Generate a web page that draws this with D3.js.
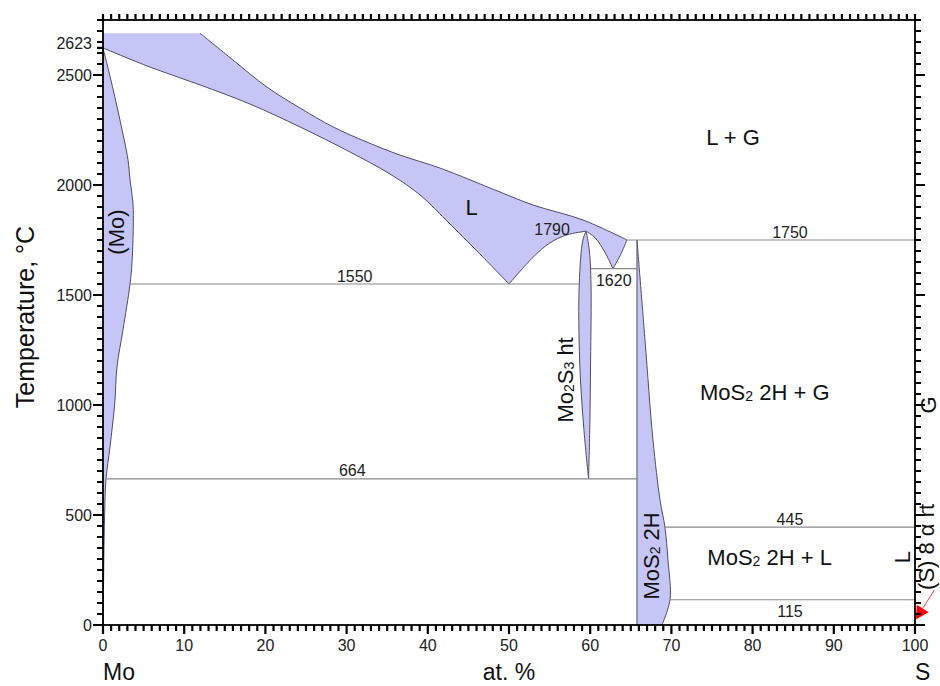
<!DOCTYPE html>
<html><head><meta charset="utf-8">
<script src="https://cdn.jsdelivr.net/npm/d3@7"></script>
<style>
body{margin:0;background:#fff}
text{font-family:"Liberation Sans",Arial,Helvetica,sans-serif}
</style>
</head><body>
<svg id="c" width="940" height="686" xmlns="http://www.w3.org/2000/svg"></svg>
<script>
// ---------- data ----------
const xTickValues = [0,10,20,30,40,50,60,70,80,90,100];
const yTickValues = [0,500,1000,1500,2000,2500,2623];
const xMinor = d3.range(0,101,1);
const yMinor = d3.range(0,2751,50);

// (Mo) solid solution: right boundary (solidus + solvus)
const moBoundary = [[0,2623],[0.86,2495],[2.09,2295],[3.08,2114],[3.33,2023],[3.69,1918],[3.72,1800],[3.57,1645],[3.33,1550],[2.46,1341],[1.72,1173],[1.45,1009],[0.86,809],[0.37,664],[0.2,500],[0.1,300],[0.03,0]];

// Liquid single-phase field
const liqTop = 2690;
const liqUpper = [[11.95,2690],[16.01,2568],[20.2,2445],[24.26,2350],[28.33,2264],[32.51,2195],[36.58,2136],[41.5,2077],[48.9,1968],[52.96,1909],[59.11,1841],[64.53,1750]];
const liqRightBranch = [[64.53,1750],[63.7,1680],[62.8,1620]];
const liqLeftBranch = [[62.8,1620],[61.8,1695],[60.6,1760],[59.5,1790]];
const liqDome = [[59.5,1790],[57.1,1773],[55.0,1736],[53.0,1673],[50.0,1550]];
const liqMoSide = [[50.0,1550],[46.43,1686],[42.73,1823],[39.04,1955],[35.34,2050],[30.42,2150],[24.26,2264],[18.1,2368],[11.95,2455],[5.79,2536],[0,2623]];

// Mo2S3 ht lens
const mo2s3Left = [[59.5,1790],[59.1,1750],[58.65,1550],[58.7,1200],[59.2,900],[59.8,664]];
const mo2s3Right = [[59.5,1790],[59.9,1700],[60.1,1550],[60.05,1200],[59.95,900],[59.8,664]];

// MoS2 2H
const mos2Left = [[65.76,1750],[65.76,0]];
const mos2Right = [[65.76,1750],[66.75,1295],[67.73,841],[68.6,568],[69.2,445],[69.58,295],[69.83,115],[68.84,0]];

// invariant lines
const invariants = [
  {T:1550, from:3.33, to:58.65},
  {T:664,  from:0.37, to:65.76},
  {T:1750, from:64.53, to:100},
  {T:1620, from:60.1, to:65.76},
  {T:445,  from:69.2, to:100},
  {T:115,  from:69.83, to:100}
];
const invariantLabels = [
  {t:"1550", x:31.0, T:1550, side:"above"},
  {t:"664",  x:30.7, T:664,  side:"above"},
  {t:"1750", x:84.6, T:1750, side:"above"},
  {t:"445",  x:84.6, T:445,  side:"above"},
  {t:"115",  x:84.6, T:115,  side:"below"},
  {t:"1620", x:62.9, T:1620, side:"below"},
  {t:"1790", x:55.3, T:1790, side:"at"}
];

// region labels (parts: [text, isSubscript])
const regionLabels = [
  {parts:[["L + G",0]], x:77.6, T:2218, rot:false},
  {parts:[["L",0]], x:45.4, T:1900, rot:false},
  {parts:[["MoS",0],["2",1],[" 2H + G",0]], x:81.5, T:1059, rot:false},
  {parts:[["MoS",0],["2",1],[" 2H + L",0]], x:82.1, T:309, rot:false},
  {parts:[["(Mo)",0]], x:1.6, T:1786, rot:true},
  {parts:[["Mo",0],["2",1],["S",0],["3",1],[" ht",0]], x:56.9, T:1114, rot:true},
  {parts:[["MoS",0],["2",1],[" 2H",0]], x:67.5, T:314, rot:true},
  {parts:[["G",0]], x:101.55, T:1000, rot:true},
  {parts:[["L",0]], x:98.4, T:309, rot:true},
  {parts:[["(S) 8 α rt",0]], x:101.4, T:355, rot:true}
];

// sulfur pointer (tail -> tip)
const sPointer = [[102.4,160],[100.1,25]];

// ---------- drawing ----------
const svg = d3.select('#c');
const x = d3.scaleLinear().domain([0,100]).range([103,915]);
const y = d3.scaleLinear().domain([0,2750]).range([625,20]);

const FILL = '#c6c6f6', EDGE = '#4d4d68';

function seg(pts){
  return d3.line().x(d=>x(d[0])).y(d=>y(d[1])).curve(d3.curveCatmullRom.alpha(0.5))(pts);
}
function chain(segs){
  return segs.map((s,i)=> i===0 ? seg(s) : seg(s).replace(/^M/,'L')).join('');
}

const g = svg.append('g');

// (Mo) field
g.append('path')
  .attr('d', `M${x(0)},${y(0)}` + chain([moBoundary.slice().reverse()]).replace(/^M/,'L') + 'Z')
  .attr('fill', FILL).attr('stroke','none');
g.append('path').attr('d', seg(moBoundary)).attr('fill','none').attr('stroke',EDGE).attr('stroke-width',1);

// Liquid field
const liqBoundary = [liqUpper, liqRightBranch, liqLeftBranch, liqDome, liqMoSide];
g.append('path')
  .attr('d', `M${x(0)},${y(liqTop)}L${x(liqUpper[0][0])},${y(liqTop)}` + chain(liqBoundary).replace(/^M/,'L') + 'Z')
  .attr('fill', FILL).attr('stroke','none');
g.append('path').attr('d', chain(liqBoundary)).attr('fill','none').attr('stroke',EDGE).attr('stroke-width',1);

// Mo2S3 lens
g.append('path')
  .attr('d', chain([mo2s3Left, mo2s3Right.slice().reverse()]) + 'Z')
  .attr('fill', FILL).attr('stroke',EDGE).attr('stroke-width',1);

// MoS2
g.append('path')
  .attr('d', chain([mos2Right]) + `L${x(mos2Left[1][0])},${y(mos2Left[1][1])}Z`)
  .attr('fill', FILL).attr('stroke','none');
g.append('path').attr('d', seg(mos2Right)).attr('fill','none').attr('stroke',EDGE).attr('stroke-width',1);
g.append('path').attr('d', d3.line().x(d=>x(d[0])).y(d=>y(d[1]))(mos2Left)).attr('fill','none').attr('stroke',EDGE).attr('stroke-width',1);

// invariant lines
g.selectAll('line.inv').data(invariants).enter().append('line')
  .attr('class','inv')
  .attr('x1', d=>x(d.from)).attr('x2', d=>x(d.to))
  .attr('y1', d=>y(d.T)).attr('y2', d=>y(d.T))
  .attr('stroke','#8a8a8a').attr('stroke-width',1.1);

g.selectAll('text.invl').data(invariantLabels).enter().append('text')
  .attr('class','invl')
  .attr('x', d=>x(d.x))
  .attr('y', d=>y(d.T) + (d.side==='above' ? -8 : d.side==='below' ? 12 : -2))
  .attr('text-anchor','middle').attr('dominant-baseline','central')
  .attr('font-size',16).attr('fill','#222')
  .text(d=>d.t);

// region labels
regionLabels.forEach(d=>{
  const t = g.append('text')
    .attr('transform', `translate(${x(d.x)},${y(d.T)})` + (d.rot ? ' rotate(-90)' : ''))
    .attr('text-anchor','middle').attr('dominant-baseline','central')
    .attr('font-size',22).attr('fill','#111');
  let shifted = false;
  d.parts.forEach(p=>{
    const ts = t.append('tspan').text(p[0]);
    if(p[1]){ ts.attr('font-size',14).attr('dy',4); shifted = true; }
    else if(shifted){ ts.attr('dy',-4); shifted = false; }
  });
});

// sulfur pointer: thin red line + filled red arrowhead
{
  const x0 = x(sPointer[0][0]), y0 = y(sPointer[0][1]);
  const x1 = x(sPointer[1][0]), y1 = y(sPointer[1][1]);
  const L = Math.hypot(x1-x0, y1-y0), ux = (x1-x0)/L, uy = (y1-y0)/L;
  const hl = 13, hw = 7;
  const bx = x1 - ux*hl, by = y1 - uy*hl;
  g.append('line').attr('x1',x0).attr('y1',y0).attr('x2',bx).attr('y2',by)
    .attr('stroke','#ff4040').attr('stroke-width',1);
  g.append('path')
    .attr('d', `M${x1},${y1}L${bx - uy*hw},${by + ux*hw}L${bx + uy*hw},${by - ux*hw}Z`)
    .attr('fill','#ff0000');
}

// ---------- axes: ticks as one path built from the scales ----------
const isMajorX = v => v % 10 === 0;
const isMajorY = v => v % 500 === 0 && v <= 2500;
let tickD = '';
xMinor.forEach(v=>{
  const px = x(v);
  tickD += `M${px},${y(0)}V${y(0) + (isMajorX(v) ? 9 : 6)}`;
  tickD += `M${px},${y(2750)}V${y(2750) - 6}`;
});
yMinor.concat([2623]).forEach(v=>{
  const py = y(v);
  tickD += `M${x(0)},${py}H${x(0) - (isMajorY(v) ? 10 : 6)}`;
});
yMinor.forEach(v=>{
  const py = y(v);
  tickD += `M${x(100)},${py}H${x(100) + (isMajorY(v) ? 10 : 6)}`;
});
svg.append('path').attr('d', tickD).attr('fill','none').attr('stroke','#000').attr('stroke-width',2.2);

svg.append('rect').attr('x',x(0)).attr('y',y(2750))
  .attr('width',x(100)-x(0)).attr('height',y(0)-y(2750))
  .attr('fill','none').attr('stroke','#000').attr('stroke-width',1.8);

// tick labels
svg.selectAll('text.xt').data(xTickValues).enter().append('text')
  .attr('x',d=>x(d)).attr('y',y(0)+20).attr('text-anchor','middle').attr('dominant-baseline','central')
  .attr('font-size',16).attr('fill','#222').text(d=>d3.format('d')(d));
svg.selectAll('text.yt').data(yTickValues).enter().append('text')
  .attr('x',x(0)-11).attr('y',d=>y(d)+(d===2623?-4:0)).attr('text-anchor','end').attr('dominant-baseline','central')
  .attr('font-size',16).attr('fill','#222').text(d=>d3.format('d')(d));

// axis titles
svg.append('text').attr('transform',`translate(25,317) rotate(-90)`)
  .attr('text-anchor','middle').attr('dominant-baseline','central')
  .attr('font-size',25).attr('fill','#111').text('Temperature, °C');
svg.append('text').attr('x',x(0)).attr('y',680).attr('font-size',23).attr('fill','#111').text('Mo');
svg.append('text').attr('x',x(50)).attr('y',680).attr('text-anchor','middle').attr('font-size',23).attr('fill','#111').text('at. %');
svg.append('text').attr('x',x(100)).attr('y',680).attr('font-size',23).attr('fill','#111').text('S');
</script>
</body></html>
